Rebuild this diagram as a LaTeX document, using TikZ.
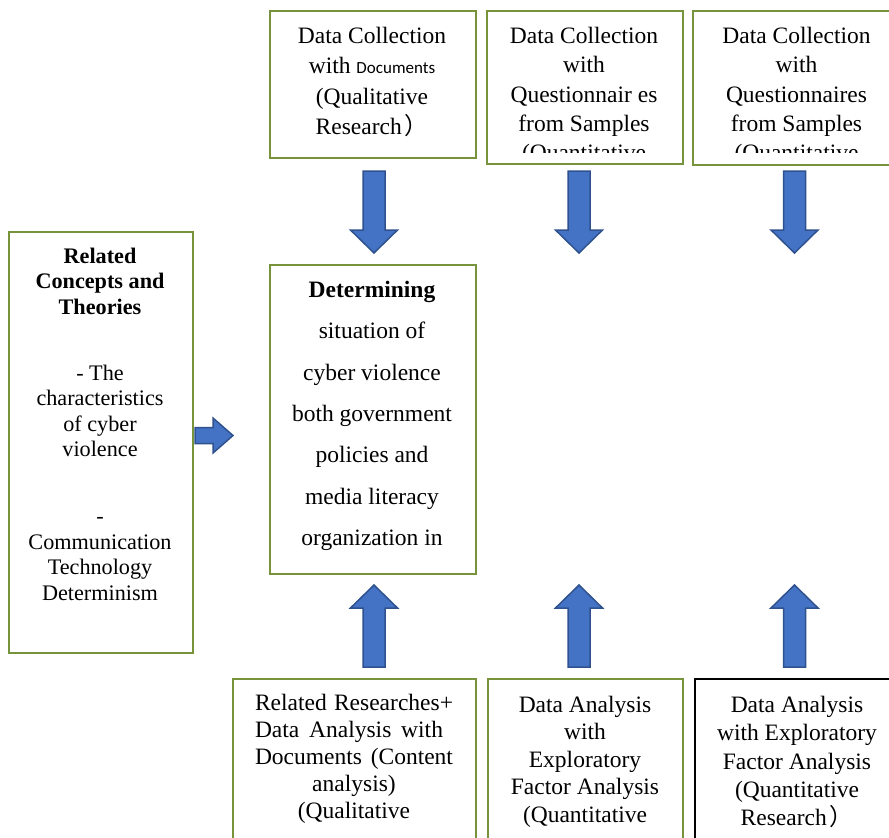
\documentclass[tikz,border=0pt]{standalone}
\usepackage{fontspec}
\setmainfont{Liberation Serif}
\newfontfamily\smallsans{Carlito}
\newfontfamily\cjkparen{Noto Sans CJK SC}
\usetikzlibrary{calc}

\definecolor{boxgreen}{RGB}{119,147,60}
\definecolor{arrowfill}{RGB}{68,114,196}
\definecolor{arrowline}{RGB}{47,82,143}

\newcommand{\fwparen}{\hspace{3pt}{\cjkparen ）}}

\tikzset{
  frame/.style={draw=boxgreen, line width=1.5pt, fill=white, inner sep=0pt, anchor=north west},
  blackframe/.style={draw=black, line width=2pt, fill=white, inner sep=0pt, anchor=north west},
  txt/.style={align=center, inner sep=0pt, text=black},
  bodyfont/.style={font=\fontsize{23.5}{#1}\selectfont},
  sidefont/.style={font=\fontsize{22.2}{25.5}\selectfont},
  sidebold/.style={font=\fontsize{22.2}{25.5}\selectfont\bfseries},
  blockarrow/.style={fill=arrowfill, draw=arrowline, line width=1.5pt, line join=miter},
  pics/arrowdown/.style={code={
    \path[blockarrow] (-11,-41) -- (11,-41) -- (11,18) -- (23.5,18) -- (0,41)
      -- (-23.5,18) -- (-11,18) -- cycle;}},
  pics/arrowup/.style={code={
    \path[blockarrow] (-11,41) -- (11,41) -- (11,-18) -- (23.5,-18) -- (0,-41)
      -- (-23.5,-18) -- (-11,-18) -- cycle;}},
  pics/arrowright/.style={code={
    \path[blockarrow] (-19,-8) -- (-1,-8) -- (-1,-17.5) -- (19,0) -- (-1,17.5)
      -- (-1,8) -- (-19,8) -- cycle;}},
}

\begin{document}
\begin{tikzpicture}[x=1pt, y=-1pt]
  \clip (0,0) rectangle (889,838);
  \fill[white] (0,0) rectangle (889,838);

  % boxes
  \node[frame, minimum width=206pt, minimum height=147pt] (t1) at (269,10) {};
  \node[frame, minimum width=196pt, minimum height=153pt] (t2) at (486,10) {};
  \node[frame, minimum width=210pt, minimum height=154pt] (t3) at (692,10) {};
  \node[frame, minimum width=184pt, minimum height=421pt] (side) at (8,231) {};
  \node[frame, minimum width=206pt, minimum height=309pt] (mid) at (269,264) {};
  \node[frame, minimum width=243pt, minimum height=190pt] (b1) at (232,678) {};
  \node[frame, minimum width=195pt, minimum height=190pt] (b2) at (487,678) {};
  \node[blackframe, minimum width=210pt, minimum height=190pt] (b3) at (694,678) {};

  % texts of the top row
  \node[txt, bodyfont=30.3] (t1text) at (372,83)
    {\strut Data Collection\\with {\smallsans\fontsize{17}{17}\selectfont Documents}\\(Qualitative\\Research\fwparen\strut};
  \begin{scope}
    \clip (486,10) rectangle (900,152);
    \node[txt, bodyfont=29.2] (t2text) at (584,96.3)
      {\strut Data Collection\\with\\Questionnair es\\from Samples\\(Quantitative\strut};
    \node[txt, bodyfont=29.2] (t3text) at (796.5,96.3)
      {\strut Data Collection\\with\\Questionnaires\\from Samples\\(Quantitative\strut};
  \end{scope}

  % left column
  \node[txt, sidebold] (sidetitle) at (100,283.7)
    {\strut Related\\Concepts and\\Theories\strut};
  \node[txt, sidefont] (sideone) at (100,413.2)
    {\strut - The\\characteristics\\of cyber\\violence\strut};
  \node[txt, sidefont] (sidetwo) at (100,556.7)
    {\strut -\\Communication\\Technology\\Determinism\strut};

  % centre box
  \node[txt, bodyfont=41.3] (midtext) at (372,413.3)
    {\strut\textbf{Determining}\\situation of\\cyber violence\\both government\\policies and\\media literacy\\organization in\strut};

  % bottom row
  \node[txt, bodyfont=27] (b1text) at (354,759.2)
    {\strut\makebox[198pt][s]{Related Researches+}\\\makebox[198pt][l]{\makebox[188pt][s]{Data Analysis with}}\\\makebox[198pt][s]{Documents (Content}\\analysis)\\(Qualitative\strut};
  \node[txt, bodyfont=27.5] (b2text) at (585,761.5)
    {\strut Data Analysis\\with\\Exploratory\\Factor Analysis\\(Quantitative\strut};
  \node[txt, bodyfont=28.2] (b3text) at (797,763.5)
    {\strut Data Analysis\\with Exploratory\\Factor Analysis\\(Quantitative\\Research\fwparen\strut};

  % block arrows
  \pic (down1) at (374,212) {arrowdown};
  \pic (down2) at (579,212) {arrowdown};
  \pic (down3) at (794.5,212) {arrowdown};
  \pic (up1) at (374,626) {arrowup};
  \pic (up2) at (579,626) {arrowup};
  \pic (up3) at (794.5,626) {arrowup};
  \pic (right1) at (214,435.5) {arrowright};
\end{tikzpicture}
\end{document}
